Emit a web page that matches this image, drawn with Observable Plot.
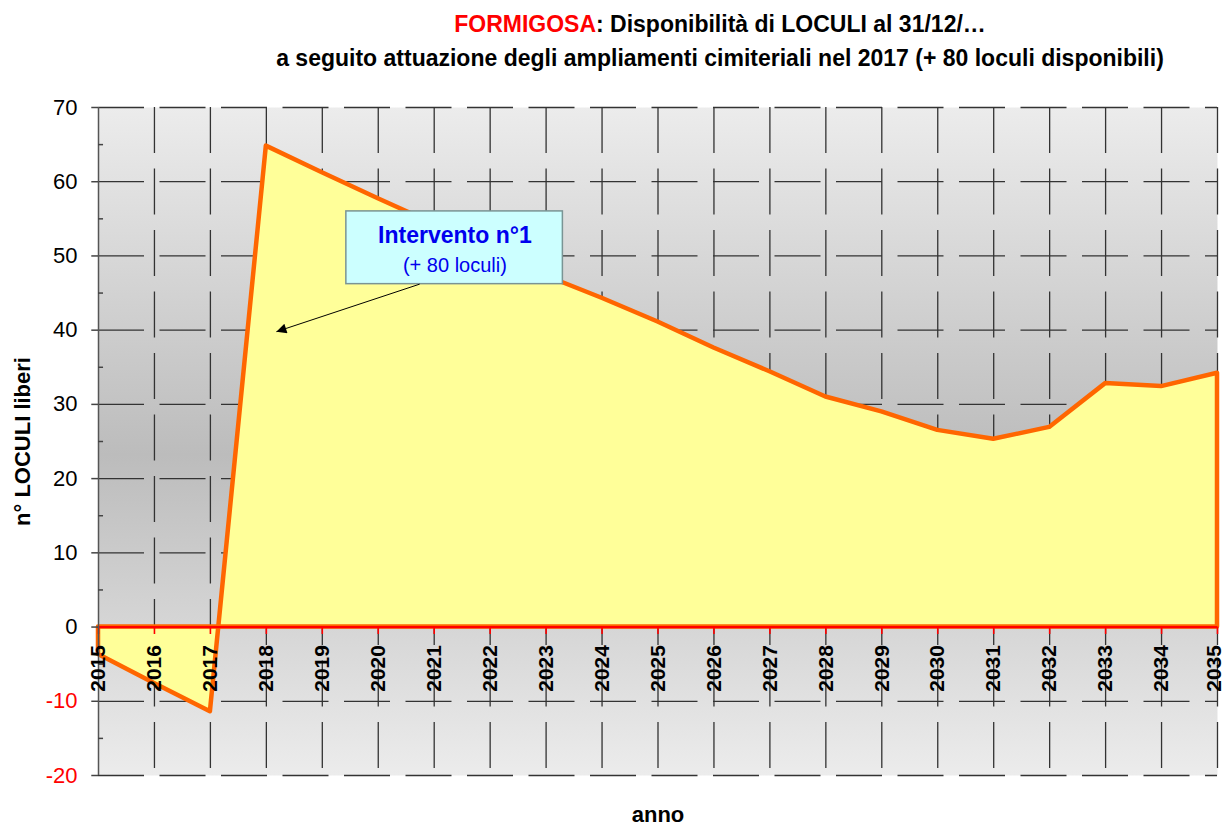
<!DOCTYPE html>
<html>
<head>
<meta charset="utf-8">
<script src="https://cdn.jsdelivr.net/npm/d3@7"></script>
<script src="https://cdn.jsdelivr.net/npm/@observablehq/plot@0.6"></script>
<style>
  body { margin: 0; background: #fff; font-family: "Liberation Sans", Arial, sans-serif; }
  #wrap { position: relative; width: 1226px; height: 826px; overflow: hidden; }
  #title { position: relative; height: 90px; }
  .t { position: absolute; left: 720px; transform: translateX(-50%); white-space: nowrap;
       font-weight: bold; font-size: 23px; line-height: 23px; color: #000; }
  .red { color: #ff0000; }
</style>
</head>
<body>
<div id="wrap">
  <div id="title">
    <div class="t" style="top:13px"><span class="red">FORMIGOSA</span>: Disponibilità di LOCULI al 31/12/…</div>
    <div class="t" style="top:47px">a seguito attuazione degli ampliamenti cimiteriali nel 2017 (+ 80 loculi disponibili)</div>
  </div>
  <div id="chart"></div>
</div>
<script>
// ---- data ----
const years  = [2015, 2016, 2017, 2018, 2019, 2020, 2021, 2022, 2023, 2024, 2025,
                2026, 2027, 2028, 2029, 2030, 2031, 2032, 2033, 2034, 2035];
const values = [-3.7, -7.6, -11.4, 64.8, 61.2, 57.7, 54.3, 50.8, 47.3, 44.3, 41.1,
                37.6, 34.4, 31.0, 29.0, 26.5, 25.3, 26.9, 32.8, 32.4, 34.2];
const yTicks = [-20, -10, 0, 10, 20, 30, 40, 50, 60, 70];
const yMinor = [-15, -5, 5, 15, 25, 35, 45, 55, 65];
const yAxisTitle = ["n° LOCULI liberi"];
const xAxisTitle = ["anno"];
// annotation (data coordinates)
const noteBox   = [{x1: 2019.43, x2: 2023.30, y1: 46.2, y2: 56.0}];
const noteText  = [{x: 2021.37, y: 52.7, text: "Intervento n°1", bold: true},
                   {x: 2021.37, y: 48.7, text: "(+ 80 loculi)", bold: false}];
const noteArrow = [{x1: 2020.74, y1: 46.2, x2: 2018.18, y2: 39.8}];

const data = years.map((year, i) => ({year, value: values[i]}));
const font = "Liberation Sans, Arial, sans-serif";
const lastYear = years[years.length - 1];

const xLabelOpts = {x: d => d, y: d => 0, text: d => String(d), rotate: -90, textAnchor: "end",
  lineAnchor: "middle", dy: 18, fontWeight: "bold", fontSize: 21, fill: "#000"};

const chart = Plot.plot({
  width: 1226,
  height: 736,
  marginTop: 17,
  marginBottom: 51,
  marginLeft: 98,
  marginRight: 9,
  x: {domain: [2015, 2035], axis: null},
  y: {domain: [-20, 70], axis: null},
  style: {fontFamily: font, background: "transparent", color: "#000"},
  marks: [
    Plot.frame({fill: "url(#bgGrad)", stroke: "none"}),
    // grid
    Plot.ruleY(yTicks, {y: d => d, stroke: "#333", strokeWidth: 1.3, strokeDasharray: "46,15.5"}),
    Plot.ruleX(years.slice(1), {x: d => d, stroke: "#333", strokeWidth: 1.3, strokeDasharray: "46,15.5"}),
    // area
    Plot.areaY(data, {x: "year", y: "value", fill: "#ffff99", stroke: "#ff6600", strokeWidth: 4.5, strokeLinejoin: "round"}),
    // zero line
    Plot.ruleY([0], {y: d => d, stroke: "#ff0000", strokeWidth: 2.2}),
    Plot.ruleX(years, {x: d => d, y1: d => 0, y2: d => -1, stroke: "#ff0000", strokeWidth: 1.6}),
    // y axis
    Plot.ruleX([2015], {x: d => d, stroke: "#555", strokeWidth: 1.5}),
    Plot.ruleY(yTicks, {y: d => d, x1: d => 2014.88, x2: d => 2015, stroke: "#444", strokeWidth: 1.5}),
    Plot.ruleY(yMinor, {y: d => d, x1: d => 2015, x2: d => 2015.09, stroke: "#444", strokeWidth: 1.5}),
    Plot.text(yTicks.filter(d => d >= 0), {y: d => d, frameAnchor: "left", textAnchor: "end", dx: -21,
      text: d => String(d), fill: "#000", fontSize: 22}),
    Plot.text(yTicks.filter(d => d < 0), {y: d => d, frameAnchor: "left", textAnchor: "end", dx: -21,
      text: d => String(d), fill: "#ff0000", fontSize: 22}),
    // x tick labels (last one nudged to stay inside the page)
    Plot.text(years.filter(d => d !== lastYear), xLabelOpts),
    Plot.text([lastYear], {...xLabelOpts, dx: -3}),
    // axis titles
    Plot.text(yAxisTitle, {frameAnchor: "left", text: d => d, rotate: -90, dx: -76, textAnchor: "middle",
      lineAnchor: "middle", fontWeight: "bold", fontSize: 22, fill: "#000"}),
    Plot.text(xAxisTitle, {frameAnchor: "bottom", text: d => d, dy: 39, textAnchor: "middle", lineAnchor: "middle",
      fontWeight: "bold", fontSize: 22, fill: "#000"}),
    // annotation
    Plot.rect(noteBox, {x1: "x1", x2: "x2", y1: "y1", y2: "y2", fill: "#ccffff", stroke: "#7a9494", strokeWidth: 1.5}),
    Plot.text(noteText.filter(d => d.bold), {x: "x", y: "y", text: "text", fill: "#0000ee", fontWeight: "bold", fontSize: 23}),
    Plot.text(noteText.filter(d => !d.bold), {x: "x", y: "y", text: "text", fill: "#0000ee", fontSize: 20}),
    Plot.link(noteArrow, {x1: "x1", y1: "y1", x2: "x2", y2: "y2", stroke: "#000", strokeWidth: 1})
  ]
});

// defs: background gradient + filled arrowhead
const svg = d3.select(chart);
const defs = svg.insert("defs", ":first-child");
const g = defs.append("linearGradient").attr("id", "bgGrad")
  .attr("x1", 0).attr("y1", 0).attr("x2", 0).attr("y2", 1);
g.append("stop").attr("offset", "0%").attr("stop-color", "#ececec");
g.append("stop").attr("offset", "52%").attr("stop-color", "#bcbcbc");
g.append("stop").attr("offset", "100%").attr("stop-color", "#ececec");
defs.append("marker").attr("id", "arrowHead")
  .attr("viewBox", "0 0 10 10").attr("refX", 10).attr("refY", 5)
  .attr("markerWidth", 14).attr("markerHeight", 10)
  .attr("markerUnits", "userSpaceOnUse").attr("orient", "auto")
  .append("path").attr("d", "M0,0L10,5L0,10Z").attr("fill", "#000");
svg.selectAll('g[aria-label="link"] path').attr("marker-end", "url(#arrowHead)");

document.getElementById("chart").appendChild(chart);
</script>
</body>
</html>
